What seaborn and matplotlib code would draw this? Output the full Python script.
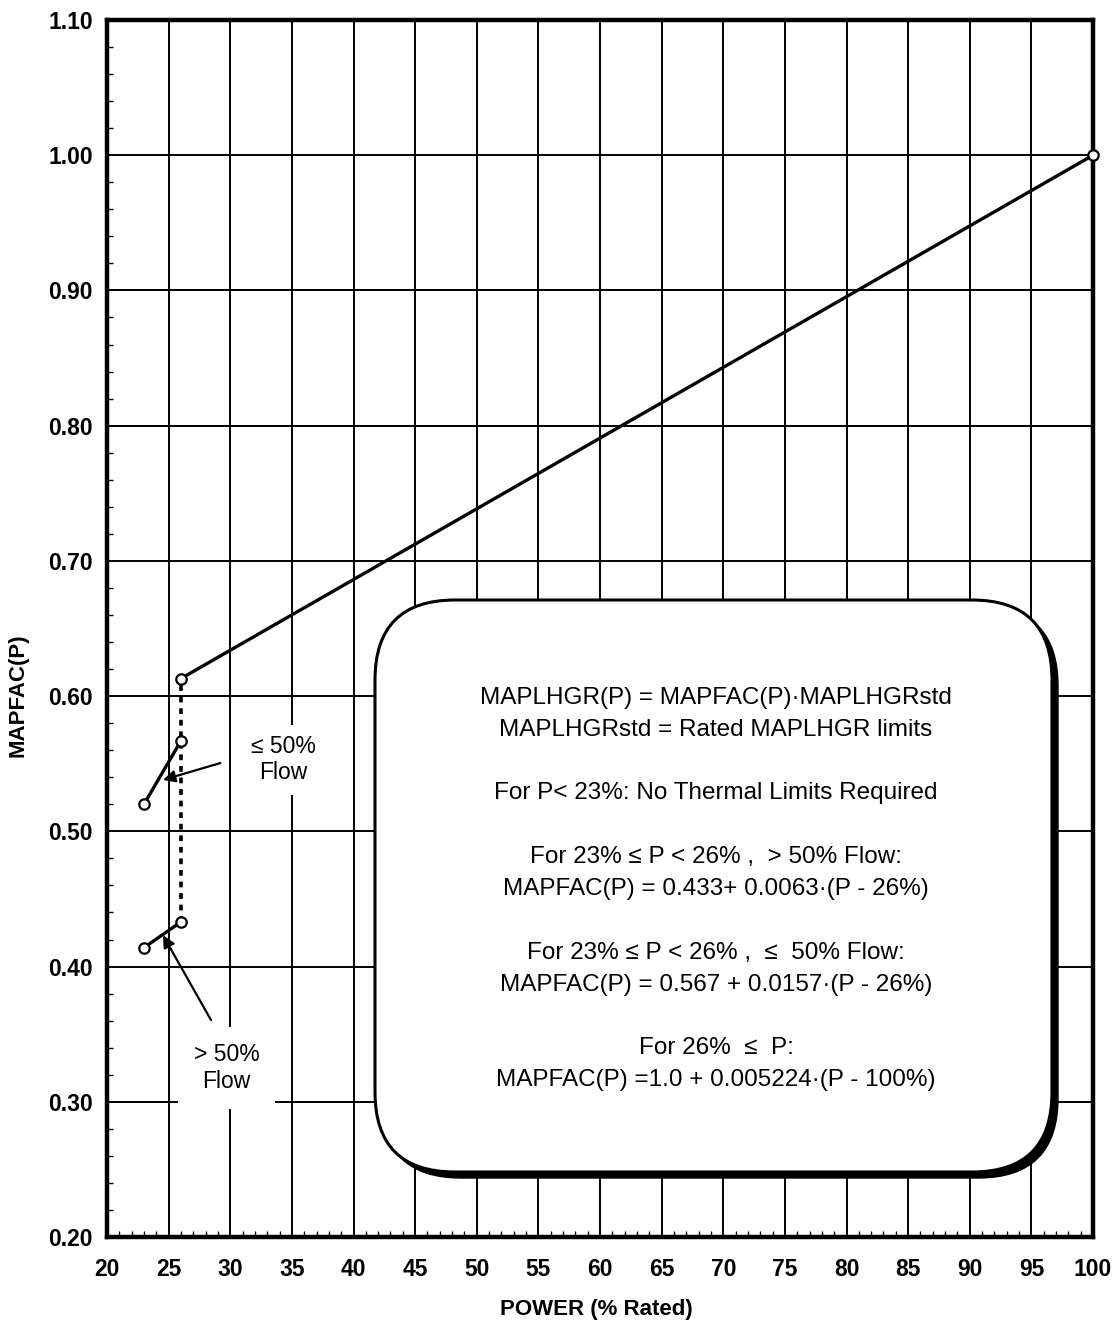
import matplotlib
matplotlib.use("Agg")
import matplotlib.pyplot as plt
import seaborn as sns
import pandas as pd
import numpy as np
from matplotlib.patches import FancyBboxPatch
from matplotlib.ticker import MultipleLocator

# ---- data ----
main_power = [26, 100]
main_mapfac = [0.613, 1.000]
low_flow_power = [23, 26]
low_flow_mapfac = [0.520, 0.567]
high_flow_power = [23, 26]
high_flow_mapfac = [0.414, 0.433]
jump_power = [26, 26]
jump_mapfac = [0.433, 0.613]

x_ticks = list(range(20, 101, 5))
y_ticks = [0.20, 0.30, 0.40, 0.50, 0.60, 0.70, 0.80, 0.90, 1.00, 1.10]

box_lines = [
    "MAPLHGR(P) = MAPFAC(P)\u00b7MAPLHGRstd",
    "MAPLHGRstd = Rated MAPLHGR limits",
    "",
    "For P< 23%: No Thermal Limits Required",
    "",
    "For 23% \u2264 P < 26% ,  > 50% Flow:",
    "MAPFAC(P) = 0.433+ 0.0063\u00b7(P - 26%)",
    "",
    "For 23% \u2264 P < 26% ,  \u2264  50% Flow:",
    "MAPFAC(P) = 0.567 + 0.0157\u00b7(P - 26%)",
    "",
    "For 26%  \u2264  P:",
    "MAPFAC(P) =1.0 + 0.005224\u00b7(P - 100%)",
]

sns.set_theme(style="white")
plt.rcParams['font.family'] = ['Liberation Sans', 'DejaVu Sans']
plt.rcParams['text.color'] = 'black'
plt.rcParams['axes.labelcolor'] = 'black'

fig = plt.figure(figsize=(11.16, 13.26), dpi=100)
ax = fig.add_axes([107/1116, 1 - 1237/1326, (1093-107)/1116, (1237-20)/1326])

ax.set_xlim(20, 100)
ax.set_ylim(0.20, 1.10)

# grid
ax.set_xticks(x_ticks)
ax.set_yticks(y_ticks)
ax.xaxis.set_minor_locator(MultipleLocator(1))
ax.yaxis.set_minor_locator(MultipleLocator(0.02))
ax.grid(True, which='major', color='black', linewidth=1.4, zorder=0)
ax.set_axisbelow(True)

# lines
df_main = pd.DataFrame({"power": main_power, "mapfac": main_mapfac})
df_low = pd.DataFrame({"power": low_flow_power, "mapfac": low_flow_mapfac})
df_high = pd.DataFrame({"power": high_flow_power, "mapfac": high_flow_mapfac})
df_jump = pd.DataFrame({"power": jump_power, "mapfac": jump_mapfac})

sns.lineplot(data=df_jump, x="power", y="mapfac", estimator=None, sort=False, ax=ax,
             color='black', linewidth=2.6, linestyle=(0, (1.6, 1.6)), zorder=3)
for d in (df_main, df_low, df_high):
    sns.lineplot(data=d, x="power", y="mapfac", estimator=None, sort=False, ax=ax,
                 color='black', linewidth=2.4, marker='o', markersize=7.5,
                 markerfacecolor='white', markeredgecolor='black',
                 markeredgewidth=1.6, zorder=9, clip_on=False)

# labels with arrows
ax.annotate("", xy=(24.54, 0.538), xytext=(29.2, 0.5505),
            arrowprops=dict(arrowstyle='-|>', color='black', lw=1.6,
                            mutation_scale=18, shrinkA=0, shrinkB=0), zorder=5)
ax.annotate("", xy=(24.54, 0.4232), xytext=(28.44, 0.3604),
            arrowprops=dict(arrowstyle='-|>', color='black', lw=1.6,
                            mutation_scale=18, shrinkA=0, shrinkB=0), zorder=5)
ax.text(34.3, 0.553, "\u2264 50%\nFlow", ha='center', va='center', fontsize=16.5,
        linespacing=1.2, zorder=2, color='black',
        bbox=dict(boxstyle='square,pad=0.45', fc='white', ec='none'))
ax.text(29.7, 0.325, "> 50%\nFlow", ha='center', va='center', fontsize=16.5,
        linespacing=1.2, zorder=2, color='black',
        bbox=dict(boxstyle='square,pad=0.7', fc='white', ec='none'))

# rounded info box with shadow
xu = (100 - 20) / 986.0
yu = (1.10 - 0.20) / 1217.0
aspect = yu / xu
bx0, by0 = 20 + (375 - 107) * xu, 1.10 - (1172 - 20) * yu
bw, bh = (1052 - 375) * xu, (1172 - 600) * yu
rs = 80 * xu
shadow = FancyBboxPatch((bx0 + 6 * xu, by0 - 6 * yu), bw, bh,
                        boxstyle=f"round,pad=0,rounding_size={rs}",
                        mutation_aspect=aspect, fc='black', ec='black', lw=1, zorder=6)
box = FancyBboxPatch((bx0, by0), bw, bh,
                     boxstyle=f"round,pad=0,rounding_size={rs}",
                     mutation_aspect=aspect, fc='white', ec='black', lw=2.2, zorder=7)
ax.add_patch(shadow)
ax.add_patch(box)

cx = 20 + (716 - 107) * xu
ax.text(cx, 1.10 - (889 - 20) * yu, "\n".join(box_lines), ha='center', va='center',
        fontsize=17.5, linespacing=1.58, zorder=8, color='black')

# ticks and spines
ax.set_xticklabels([str(v) for v in x_ticks])
ax.set_yticklabels([f"{v:.2f}" for v in y_ticks])
ax.tick_params(axis='x', which='major', direction='out', length=5, width=1.2,
               labelsize=16.5, colors='black', labelcolor='black', pad=10)
ax.tick_params(axis='y', which='major', direction='out', length=5, width=1.2,
               labelsize=16.5, colors='black', labelcolor='black', pad=5)
ax.tick_params(axis='both', which='minor', direction='in', length=4, width=1.0,
               colors='black', bottom=True, left=True)
for lab in ax.get_xticklabels() + ax.get_yticklabels():
    lab.set_fontweight('bold')
for side, s in ax.spines.items():
    s.set_color('black')
    s.set_linewidth(3.2)
    s.set_visible(True)

ax.set_xlabel("POWER (% Rated)", fontsize=16, fontweight='bold', color='black')
ax.set_ylabel("MAPFAC(P)", fontsize=16, fontweight='bold', color='black')
ax.xaxis.set_label_coords((596 - 107) / 986, -(1310 - 1237) / 1217)
ax.yaxis.set_label_coords((18 - 107) / 986, (1237 - 695) / 1217)
ax.xaxis.label.set_va('center')
ax.yaxis.label.set_va('center')

fig.savefig("out.png", dpi=100)
